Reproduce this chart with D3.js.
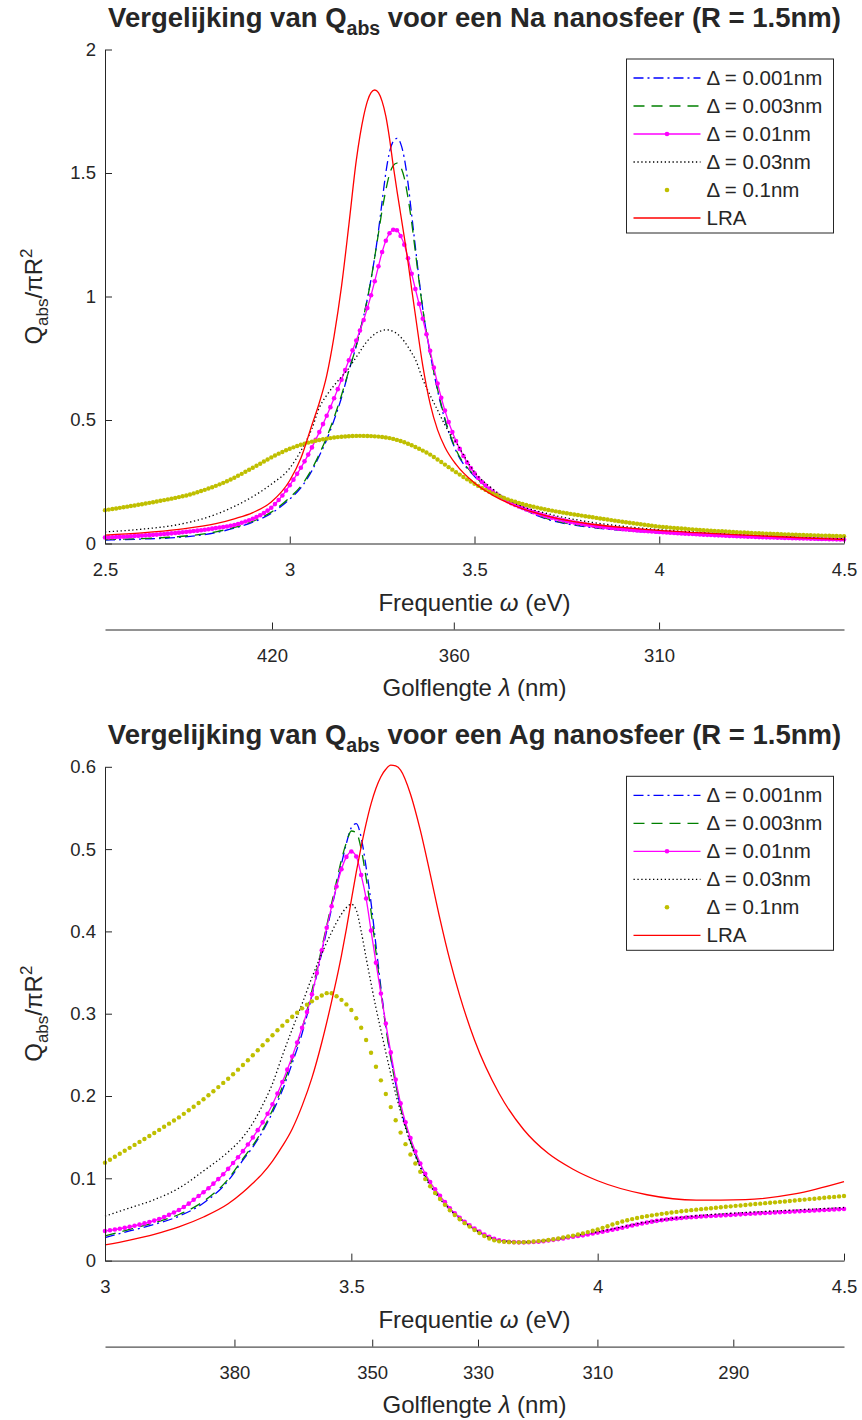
<!DOCTYPE html>
<html>
<head>
<meta charset="utf-8">
<script src="https://cdn.jsdelivr.net/npm/d3@7/dist/d3.min.js"></script>
<style>
  body { margin: 0; background: #fff; }
  svg text { font-family: "Liberation Sans", Arial, sans-serif; fill: #262626; }
  .axis path, .axis line { stroke: #262626; stroke-width: 1; }
  .axis text { font-size: 18.5px; }
</style>
</head>
<body>
<script>
// Photon energy <-> wavelength (eV * nm)
var hc = 1239.84;

// ---------- Na nanosphere (R = 1.5nm) ----------
// coarse energy grid (eV) for the plain line series
var naGridE = [2.5, 2.6, 2.7, 2.8, 2.85, 2.9, 2.95, 3.0,
  3.03, 3.06, 3.08, 3.1, 3.12, 3.14, 3.16, 3.18,
  3.19, 3.2, 3.21, 3.22, 3.23, 3.24, 3.25, 3.26, 3.27, 3.28, 3.29, 3.3, 3.31, 3.32, 3.33, 3.34,
  3.36, 3.38, 3.4, 3.42, 3.45,
  3.5, 3.55, 3.6, 3.7, 3.8, 3.9,
  4.0, 4.1, 4.2, 4.3, 4.4, 4.5];

var naQ001 = [0.014, 0.018, 0.025, 0.044, 0.062, 0.086, 0.122, 0.180,
  0.225, 0.295, 0.355, 0.420, 0.500, 0.590, 0.700, 0.800,
  0.860, 0.920, 0.990, 1.070, 1.160, 1.265, 1.385, 1.500, 1.585, 1.628, 1.640, 1.620, 1.560, 1.460, 1.330, 1.200,
  0.950, 0.770, 0.620, 0.500, 0.375,
  0.272, 0.208, 0.163, 0.097, 0.068, 0.053,
  0.043, 0.035, 0.028, 0.022, 0.017, 0.0135];

var naQ003 = [0.016, 0.020, 0.028, 0.047, 0.065, 0.090, 0.127, 0.186,
  0.232, 0.302, 0.362, 0.430, 0.510, 0.600, 0.700, 0.800,
  0.860, 0.920, 0.990, 1.070, 1.160, 1.255, 1.350, 1.430, 1.495, 1.530, 1.540, 1.525, 1.480, 1.400, 1.300, 1.180,
  0.950, 0.770, 0.625, 0.505, 0.380,
  0.275, 0.210, 0.165, 0.099, 0.070, 0.054,
  0.044, 0.036, 0.029, 0.023, 0.018, 0.014];

var naQ03 = [0.047, 0.058, 0.077, 0.118, 0.150, 0.190, 0.240, 0.305,
  0.375, 0.465, 0.550, 0.600, 0.640, 0.675, 0.710, 0.755,
  0.777, 0.800, 0.820, 0.835, 0.848, 0.857, 0.862, 0.865, 0.864, 0.858, 0.850, 0.836, 0.818, 0.796, 0.772, 0.745,
  0.665, 0.600, 0.540, 0.480, 0.410,
  0.290, 0.220, 0.170, 0.120, 0.090, 0.070,
  0.056, 0.046, 0.038, 0.031, 0.025, 0.019];

var naQLRA = [0.034, 0.043, 0.057, 0.080, 0.100, 0.125, 0.168, 0.255,
  0.345, 0.480, 0.570, 0.680, 0.840, 1.040, 1.290, 1.550,
  1.650, 1.730, 1.790, 1.825, 1.836, 1.825, 1.790, 1.730, 1.640, 1.530, 1.430, 1.335, 1.240, 1.140, 1.030, 0.925,
  0.720, 0.565, 0.460, 0.390, 0.320,
  0.245, 0.195, 0.158, 0.110, 0.082, 0.065,
  0.053, 0.044, 0.036, 0.029, 0.022, 0.016];

// marker series, sampled every 0.01 eV from 2.50 to 4.50
var naQ01 = [
  0.0240, 0.0247, 0.0254, 0.0261, 0.0268, 0.0276, 0.0284, 0.0292, 0.0301, 0.0310,
  0.0319, 0.0329, 0.0339, 0.0350, 0.0361, 0.0373, 0.0385, 0.0398, 0.0411, 0.0425,
  0.0440, 0.0455, 0.0471, 0.0487, 0.0504, 0.0521, 0.0539, 0.0558, 0.0579, 0.0601,
  0.0623, 0.0645, 0.0667, 0.0690, 0.0718, 0.0750, 0.0792, 0.0838, 0.0888, 0.0942,
  0.1000, 0.1068, 0.1145, 0.1232, 0.1332, 0.1450, 0.1595, 0.1760, 0.1945, 0.2145,
  0.2360, 0.2585, 0.2820, 0.3065, 0.3325, 0.3600, 0.3890, 0.4195, 0.4510, 0.4835,
  0.5170, 0.5520, 0.5880, 0.6250, 0.6630, 0.7020, 0.7420, 0.7820, 0.8220, 0.8620,
  0.9050, 0.9530, 1.0050, 1.0620, 1.1220, 1.1800, 1.2260, 1.2560, 1.2700, 1.2680,
  1.2450, 1.2100, 1.1550, 1.0920, 1.0300, 0.9700, 0.9100, 0.8470, 0.7800, 0.7120,
  0.6480, 0.5900, 0.5380, 0.4920, 0.4510, 0.4150, 0.3830, 0.3540, 0.3280, 0.3050,
  0.2840, 0.2650, 0.2490, 0.2350, 0.2220, 0.2100, 0.1990, 0.1890, 0.1800, 0.1710,
  0.1630, 0.1560, 0.1495, 0.1435, 0.1378, 0.1323, 0.1270, 0.1220, 0.1172, 0.1127,
  0.1085, 0.1045, 0.1007, 0.0971, 0.0937, 0.0905, 0.0875, 0.0847, 0.0820, 0.0795,
  0.0771, 0.0748, 0.0726, 0.0705, 0.0685, 0.0666, 0.0648, 0.0631, 0.0615, 0.0599,
  0.0584, 0.0570, 0.0556, 0.0543, 0.0530, 0.0518, 0.0506, 0.0495, 0.0484, 0.0474,
  0.0464, 0.0454, 0.0444, 0.0434, 0.0425, 0.0416, 0.0407, 0.0398, 0.0390, 0.0382,
  0.0374, 0.0366, 0.0358, 0.0350, 0.0343, 0.0336, 0.0329, 0.0322, 0.0315, 0.0308,
  0.0302, 0.0296, 0.0290, 0.0284, 0.0278, 0.0272, 0.0266, 0.0260, 0.0255, 0.0250,
  0.0245, 0.0240, 0.0235, 0.0230, 0.0225, 0.0220, 0.0216, 0.0212, 0.0208, 0.0204,
  0.0200, 0.0196, 0.0192, 0.0188, 0.0184, 0.0180, 0.0176, 0.0172, 0.0168, 0.0164,
  0.0160];

var naQ1 = [
  0.1350, 0.1373, 0.1396, 0.1419, 0.1443, 0.1467, 0.1491, 0.1516, 0.1541, 0.1566,
  0.1592, 0.1618, 0.1645, 0.1672, 0.1700, 0.1728, 0.1757, 0.1786, 0.1816, 0.1847,
  0.1878, 0.1910, 0.1943, 0.1985, 0.2029, 0.2075, 0.2123, 0.2173, 0.2225, 0.2279,
  0.2335, 0.2394, 0.2456, 0.2521, 0.2590, 0.2663, 0.2740, 0.2820, 0.2902, 0.2985,
  0.3068, 0.3150, 0.3230, 0.3318, 0.3403, 0.3485, 0.3563, 0.3637, 0.3707, 0.3773,
  0.3835, 0.3893, 0.3947, 0.3997, 0.4043, 0.4085, 0.4123, 0.4158, 0.4190, 0.4219,
  0.4245, 0.4268, 0.4289, 0.4307, 0.4322, 0.4335, 0.4345, 0.4352, 0.4356, 0.4358,
  0.4357, 0.4354, 0.4348, 0.4339, 0.4327, 0.4311, 0.4291, 0.4267, 0.4235, 0.4195,
  0.4150, 0.4098, 0.4040, 0.3977, 0.3909, 0.3837, 0.3762, 0.3685, 0.3600, 0.3500,
  0.3400, 0.3298, 0.3195, 0.3092, 0.2990, 0.2889, 0.2790, 0.2693, 0.2598, 0.2506,
  0.2417, 0.2331, 0.2249, 0.2171, 0.2097, 0.2027, 0.1961, 0.1899, 0.1841, 0.1787,
  0.1736, 0.1688, 0.1643, 0.1601, 0.1561, 0.1523, 0.1487, 0.1453, 0.1420, 0.1389,
  0.1359, 0.1330, 0.1302, 0.1275, 0.1249, 0.1224, 0.1199, 0.1175, 0.1152, 0.1129,
  0.1106, 0.1083, 0.1060, 0.1037, 0.1014, 0.0992, 0.0970, 0.0948, 0.0926, 0.0904,
  0.0882, 0.0861, 0.0840, 0.0819, 0.0798, 0.0778, 0.0758, 0.0738, 0.0719, 0.0700,
  0.0682, 0.0669, 0.0656, 0.0643, 0.0631, 0.0619, 0.0607, 0.0595, 0.0584, 0.0573,
  0.0562, 0.0551, 0.0541, 0.0531, 0.0521, 0.0511, 0.0502, 0.0493, 0.0484, 0.0475,
  0.0467, 0.0459, 0.0451, 0.0443, 0.0435, 0.0428, 0.0421, 0.0414, 0.0407, 0.0400,
  0.0394, 0.0388, 0.0382, 0.0376, 0.0370, 0.0364, 0.0359, 0.0354, 0.0349, 0.0344,
  0.0339, 0.0334, 0.0329, 0.0324, 0.0319, 0.0315, 0.0311, 0.0307, 0.0303, 0.0299,
  0.0295];

// ---------- Ag nanosphere (R = 1.5nm) ----------
var agGridE = [3.0, 3.05, 3.1, 3.15, 3.2, 3.25,
  3.28, 3.3, 3.32, 3.34, 3.36, 3.38, 3.4, 3.42, 3.44, 3.46,
  3.47, 3.48, 3.49, 3.5, 3.51, 3.52, 3.53, 3.54, 3.55, 3.56, 3.57, 3.58, 3.59, 3.6,
  3.62, 3.64, 3.66, 3.68, 3.7, 3.72,
  3.75, 3.8, 3.85, 3.9, 3.95, 4.0,
  4.1, 4.2, 4.3, 4.4, 4.5];

var agQ001 = [0.028, 0.036, 0.044, 0.054, 0.070, 0.097,
  0.122, 0.138, 0.157, 0.180, 0.207, 0.240, 0.276, 0.322, 0.374, 0.428,
  0.455, 0.482, 0.507, 0.526, 0.531, 0.514, 0.478, 0.435, 0.383, 0.332, 0.286, 0.248, 0.215, 0.186,
  0.145, 0.115, 0.093, 0.077, 0.063, 0.052,
  0.038, 0.0245, 0.022, 0.0242, 0.029, 0.034,
  0.046, 0.053, 0.0566, 0.0597, 0.0627];

var agQ003 = [0.030, 0.038, 0.046, 0.056, 0.072, 0.099,
  0.124, 0.140, 0.159, 0.183, 0.211, 0.245, 0.282, 0.328, 0.380, 0.434,
  0.461, 0.487, 0.508, 0.522, 0.520, 0.500, 0.465, 0.424, 0.375, 0.327, 0.283, 0.246, 0.214, 0.186,
  0.145, 0.115, 0.093, 0.077, 0.063, 0.052,
  0.038, 0.0245, 0.022, 0.0242, 0.029, 0.034,
  0.046, 0.053, 0.0566, 0.0597, 0.0627];

var agQ03 = [0.054, 0.064, 0.074, 0.088, 0.109, 0.132,
  0.150, 0.167, 0.189, 0.215, 0.249, 0.281, 0.312, 0.344, 0.373, 0.399,
  0.411, 0.421, 0.429, 0.433, 0.426, 0.400, 0.368, 0.337, 0.307, 0.280, 0.253, 0.227, 0.203, 0.181,
  0.143, 0.113, 0.091, 0.075, 0.062, 0.051,
  0.038, 0.025, 0.0225, 0.025, 0.030, 0.035,
  0.047, 0.0545, 0.0585, 0.0615, 0.0645];

var agQLRA = [0.019, 0.025, 0.032, 0.041, 0.053, 0.069,
  0.083, 0.094, 0.106, 0.121, 0.139, 0.160, 0.188, 0.222, 0.265, 0.315,
  0.342, 0.371, 0.403, 0.438, 0.472, 0.503, 0.531, 0.555, 0.574, 0.588, 0.597, 0.602, 0.601, 0.596,
  0.567, 0.523, 0.470, 0.415, 0.365, 0.322,
  0.268, 0.203, 0.159, 0.130, 0.111, 0.097,
  0.080, 0.0735, 0.0742, 0.081, 0.096];

// marker series, sampled every 0.01 eV from 3.00 to 4.50
var agQ01 = [
  0.0360, 0.0368, 0.0377, 0.0387, 0.0398, 0.0410, 0.0423, 0.0437, 0.0452, 0.0468,
  0.0486, 0.0505, 0.0530, 0.0556, 0.0584, 0.0615, 0.0652, 0.0692, 0.0740, 0.0785,
  0.0830, 0.0880, 0.0935, 0.0990, 0.1050, 0.1115, 0.1185, 0.1255, 0.1330, 0.1410,
  0.1495, 0.1585, 0.1680, 0.1785, 0.1900, 0.2030, 0.2170, 0.2320, 0.2480, 0.2650,
  0.2830, 0.3020, 0.3235, 0.3495, 0.3770, 0.4045, 0.4305, 0.4545, 0.4755, 0.4905,
  0.4970, 0.4910, 0.4685, 0.4400, 0.4010, 0.3620, 0.3245, 0.2880, 0.2530, 0.2200,
  0.1910, 0.1680, 0.1490, 0.1325, 0.1180, 0.1055, 0.0955, 0.0867, 0.0787, 0.0710,
  0.0635, 0.0575, 0.0520, 0.0472, 0.0430, 0.0390, 0.0352, 0.0318, 0.0288, 0.0264,
  0.0246, 0.0234, 0.0228, 0.0224, 0.0222, 0.0222, 0.0223, 0.0226, 0.0230, 0.0236,
  0.0244, 0.0252, 0.0261, 0.0270, 0.0280, 0.0289, 0.0298, 0.0307, 0.0318, 0.0329,
  0.0340, 0.0351, 0.0362, 0.0374, 0.0386, 0.0400, 0.0413, 0.0426, 0.0439, 0.0451,
  0.0462, 0.0473, 0.0483, 0.0492, 0.0500, 0.0507, 0.0513, 0.0518, 0.0523, 0.0527,
  0.0531, 0.0535, 0.0538, 0.0542, 0.0545, 0.0548, 0.0552, 0.0555, 0.0559, 0.0562,
  0.0566, 0.0569, 0.0573, 0.0576, 0.0579, 0.0582, 0.0585, 0.0588, 0.0591, 0.0594,
  0.0597, 0.0600, 0.0603, 0.0606, 0.0609, 0.0612, 0.0615, 0.0618, 0.0621, 0.0624,
  0.0627];

var agQ1 = [
  0.1190, 0.1226, 0.1262, 0.1298, 0.1334, 0.1370, 0.1406, 0.1442, 0.1478, 0.1514,
  0.1550, 0.1588, 0.1626, 0.1664, 0.1702, 0.1740, 0.1783, 0.1826, 0.1870, 0.1915,
  0.1960, 0.2009, 0.2058, 0.2108, 0.2159, 0.2210, 0.2265, 0.2320, 0.2377, 0.2435,
  0.2495, 0.2556, 0.2617, 0.2678, 0.2738, 0.2798, 0.2855, 0.2910, 0.2963, 0.3013,
  0.3065, 0.3110, 0.3150, 0.3190, 0.3222, 0.3250, 0.3248, 0.3212, 0.3168, 0.3113,
  0.3045, 0.2945, 0.2830, 0.2680, 0.2525, 0.2355, 0.2190, 0.2025, 0.1865, 0.1705,
  0.1555, 0.1415, 0.1290, 0.1180, 0.1080, 0.0990, 0.0903, 0.0822, 0.0748, 0.0678,
  0.0612, 0.0554, 0.0502, 0.0455, 0.0413, 0.0372, 0.0334, 0.0298, 0.0268, 0.0246,
  0.0234, 0.0228, 0.0224, 0.0222, 0.0222, 0.0224, 0.0227, 0.0232, 0.0237, 0.0243,
  0.0251, 0.0260, 0.0270, 0.0280, 0.0292, 0.0304, 0.0317, 0.0331, 0.0346, 0.0362,
  0.0378, 0.0398, 0.0418, 0.0438, 0.0457, 0.0475, 0.0490, 0.0504, 0.0517, 0.0529,
  0.0540, 0.0550, 0.0559, 0.0568, 0.0576, 0.0584, 0.0592, 0.0599, 0.0606, 0.0613,
  0.0619, 0.0625, 0.0631, 0.0637, 0.0643, 0.0648, 0.0654, 0.0659, 0.0665, 0.0670,
  0.0676, 0.0681, 0.0687, 0.0692, 0.0698, 0.0703, 0.0708, 0.0714, 0.0719, 0.0725,
  0.0730, 0.0736, 0.0741, 0.0747, 0.0752, 0.0758, 0.0763, 0.0769, 0.0774, 0.0780,
  0.0785];

// Legend entries and axis ticks
var legendLabels = ["\u0394 = 0.001nm", "\u0394 = 0.003nm", "\u0394 = 0.01nm", "\u0394 = 0.03nm", "\u0394 = 0.1nm", "LRA"];
var naEnergyTicks = [2.5, 3, 3.5, 4, 4.5];
var naQTicks = [0, 0.5, 1, 1.5, 2];
var naLambdaTicks = [420, 360, 310];
var agEnergyTicks = [3, 3.5, 4, 4.5];
var agQTicks = [0, 0.1, 0.2, 0.3, 0.4, 0.5, 0.6];
var agLambdaTicks = [380, 350, 330, 310, 290];

// Fine energy grid used by the marker series (0.01 eV spacing)
function fineGrid(start, n) {
    return d3.range(n).map(function(i) { return +(start + i * 0.01).toFixed(2); });
}

function zip(es, qs) {
    return es.map(function(e, i) { return [e, qs[i]]; });
}

// Page
var width = 862, height = 1420;
var plotLeft = 105, plotRight = 844;

var svg = d3.select("body")
    .append("svg")
    .attr("width", width)
    .attr("height", height);

// Line styles, in legend order
var styles = [
    {color: "#0000ff", dash: "10,4,2,4", line: true, marker: false},
    {color: "#008000", dash: "11,7", line: true, marker: false},
    {color: "#ff00ff", dash: null, line: true, marker: true},
    {color: "#000000", dash: "1.3,2.6", line: true, marker: false},
    {color: "#bfbf00", dash: null, line: false, marker: true},
    {color: "#ff0000", dash: null, line: true, marker: false}
];

function drawPanel(p) {
    var g = svg.append("g");

    var x = d3.scaleLinear().domain(p.xDomain).range([plotLeft, plotRight]);
    var y = d3.scaleLinear().domain(p.yDomain).range([p.yBottom, p.yTop]);

    // Curves
    var line = d3.line()
        .x(function(d) { return x(d[0]); })
        .y(function(d) { return y(d[1]); })
        .curve(d3.curveMonotoneX);

    p.series.forEach(function(s, i) {
        var st = styles[i];
        if (st.line) {
            g.append("path")
                .datum(s)
                .attr("fill", "none")
                .attr("stroke", st.color)
                .attr("stroke-width", 1.3)
                .attr("stroke-dasharray", st.dash)
                .attr("d", line);
        }
        if (st.marker) {
            g.append("g").selectAll("circle")
                .data(s)
                .enter().append("circle")
                .attr("cx", function(d) { return x(d[0]); })
                .attr("cy", function(d) { return y(d[1]); })
                .attr("r", i === 4 ? 2.2 : 2.3)
                .attr("fill", st.color);
        }
    });

    // Energy axis (ticks point inward)
    g.append("g")
        .attr("class", "axis")
        .attr("transform", "translate(0," + p.yBottom + ")")
        .call(d3.axisBottom(x)
            .tickValues(p.xTicks)
            .tickSizeInner(-7)
            .tickSizeOuter(0)
            .tickPadding(19)
            .tickFormat(d3.format("")));

    g.append("g")
        .attr("class", "axis")
        .attr("transform", "translate(" + plotLeft + ",0)")
        .call(d3.axisLeft(y)
            .tickValues(p.yTicks)
            .tickSizeInner(-7)
            .tickSizeOuter(0)
            .tickPadding(9)
            .tickFormat(d3.format("")));

    // Wavelength axis underneath
    g.append("g")
        .attr("class", "axis")
        .attr("transform", "translate(0," + (p.yBottom + 86) + ")")
        .call(d3.axisBottom(x)
            .tickValues(p.lambdaTicks.map(function(l) { return hc / l; }))
            .tickSizeInner(-7)
            .tickSizeOuter(0)
            .tickPadding(19)
            .tickFormat(function(e) { return Math.round(hc / e); }));

    // Axis labels
    var xl = g.append("text")
        .attr("x", (plotLeft + plotRight) / 2)
        .attr("y", p.yBottom + 67.5)
        .attr("text-anchor", "middle")
        .style("font-size", "24px");
    xl.append("tspan").text("Frequentie ");
    xl.append("tspan").style("font-style", "italic").text("\u03c9");
    xl.append("tspan").text(" (eV)");

    var ll = g.append("text")
        .attr("x", (plotLeft + plotRight) / 2)
        .attr("y", p.yBottom + 152)
        .attr("text-anchor", "middle")
        .style("font-size", "24px");
    ll.append("tspan").text("Golflengte ");
    ll.append("tspan").style("font-style", "italic").text("\u03bb");
    ll.append("tspan").text(" (nm)");

    var yl = g.append("text")
        .attr("transform", "translate(42," + (p.yTop + p.yBottom) / 2 + ") rotate(-90)")
        .attr("text-anchor", "middle")
        .style("font-size", "24px");
    yl.append("tspan").text("Q");
    yl.append("tspan").attr("dy", 6).style("font-size", "17px").text("abs");
    yl.append("tspan").attr("dy", -6).text("/\u03c0R");
    yl.append("tspan").attr("dy", -10).style("font-size", "17px").text("2");

    // Title
    var t = g.append("text")
        .attr("x", (plotLeft + plotRight) / 2)
        .attr("y", p.yTop - 22.5)
        .attr("text-anchor", "middle")
        .style("font-size", "27.5px")
        .style("font-weight", "bold");
    t.append("tspan").text("Vergelijking van Q");
    t.append("tspan").attr("dy", 8).style("font-size", "19.5px").text("abs");
    t.append("tspan").attr("dy", -8).text(" voor een " + p.metal + " nanosfeer (R = 1.5nm)");

    // Legend
    var lx = 626.5, ly = p.yTop + 9.5;
    var leg = g.append("g").attr("transform", "translate(" + lx + "," + ly + ")");
    leg.append("rect")
        .attr("width", 207)
        .attr("height", 174)
        .attr("fill", "#fff")
        .attr("stroke", "#262626")
        .attr("stroke-width", 1);

    legendLabels.forEach(function(label, i) {
        var st = styles[i];
        var ry = 19 + i * 28;
        if (st.line) {
            leg.append("line")
                .attr("x1", 7).attr("x2", 74)
                .attr("y1", ry).attr("y2", ry)
                .attr("stroke", st.color)
                .attr("stroke-width", 1.3)
                .attr("stroke-dasharray", st.dash);
        }
        if (st.marker) {
            leg.append("circle")
                .attr("cx", 40.5).attr("cy", ry)
                .attr("r", 2.3)
                .attr("fill", st.color);
        }
        leg.append("text")
            .attr("x", 80)
            .attr("y", ry)
            .attr("dy", "0.35em")
            .style("font-size", "20.5px")
            .text(label);
    });
}

// Top: Na
drawPanel({
    metal: "Na",
    xDomain: [2.5, 4.5],
    yDomain: [0, 2],
    yTop: 49.5,
    yBottom: 543.5,
    xTicks: naEnergyTicks,
    yTicks: naQTicks,
    lambdaTicks: naLambdaTicks,
    series: [
        zip(naGridE, naQ001),
        zip(naGridE, naQ003),
        zip(fineGrid(2.5, naQ01.length), naQ01),
        zip(naGridE, naQ03),
        zip(fineGrid(2.5, naQ1.length), naQ1),
        zip(naGridE, naQLRA)
    ]
});

// Bottom: Ag
drawPanel({
    metal: "Ag",
    xDomain: [3, 4.5],
    yDomain: [0, 0.6],
    yTop: 766.8,
    yBottom: 1260.6,
    xTicks: agEnergyTicks,
    yTicks: agQTicks,
    lambdaTicks: agLambdaTicks,
    series: [
        zip(agGridE, agQ001),
        zip(agGridE, agQ003),
        zip(fineGrid(3.0, agQ01.length), agQ01),
        zip(agGridE, agQ03),
        zip(fineGrid(3.0, agQ1.length), agQ1),
        zip(agGridE, agQLRA)
    ]
});
</script>
</body>
</html>
